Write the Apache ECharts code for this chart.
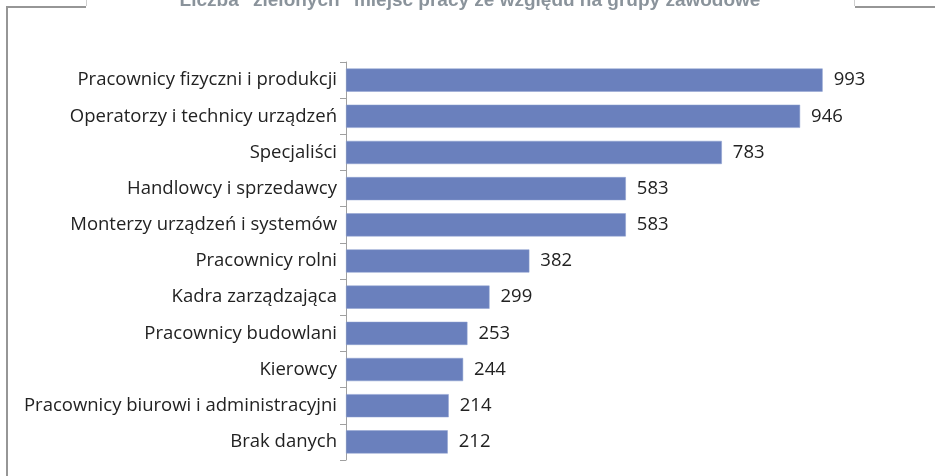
<!DOCTYPE html>
<html>
<head>
<meta charset="utf-8">
<script src="https://cdn.jsdelivr.net/npm/echarts@6/dist/echarts.min.js"></script>
<style>
html,body{margin:0;padding:0;background:#fff;}
#chart{width:935px;height:476px;}
</style>
</head>
<body>
<div id="chart"></div>
<script>
const titleText = 'Liczba "zielonych" miejsc pracy ze względu na grupy zawodowe';
const categories = [
  'Pracownicy fizyczni i produkcji',
  'Operatorzy i technicy urządzeń',
  'Specjaliści',
  'Handlowcy i sprzedawcy',
  'Monterzy urządzeń i systemów',
  'Pracownicy rolni',
  'Kadra zarządzająca',
  'Pracownicy budowlani',
  'Kierowcy',
  'Pracownicy biurowi i administracyjni',
  'Brak danych'
];
const values = [993, 946, 783, 583, 583, 382, 299, 253, 244, 214, 212];

const chart = echarts.init(document.getElementById('chart'), null, {renderer: 'canvas'});
const FONT = '"Open Sans", "Liberation Sans", Arial, sans-serif';
chart.setOption({
  animation: false,
  backgroundColor: '#ffffff',
  graphic: [
    {type: 'line', shape: {x1: 7, y1: 7, x2: 86, y2: 7}, style: {stroke: '#969696', lineWidth: 2}},
    {type: 'line', shape: {x1: 7, y1: 6, x2: 7, y2: 476}, style: {stroke: '#969696', lineWidth: 2}},
    {type: 'line', shape: {x1: 855, y1: 7, x2: 935, y2: 7}, style: {stroke: '#969696', lineWidth: 2}},
    {type: 'line', shape: {x1: 86.5, y1: 0, x2: 86.5, y2: 6}, style: {stroke: '#cfcfcf', lineWidth: 1}},
    {type: 'line', shape: {x1: 854.5, y1: 0, x2: 854.5, y2: 6}, style: {stroke: '#cfcfcf', lineWidth: 1}},
    {type: 'text', style: {text: titleText, x: 470, y: -9, textAlign: 'center', fill: '#8a939b', font: 'bold 19px "Liberation Sans", Arial, sans-serif'}}
  ],
  grid: {left: 346, right: 109, top: 62, bottom: 16, containLabel: false},
  xAxis: {
    type: 'value', min: 0, max: 1000, show: false
  },
  yAxis: {
    type: 'category',
    data: categories,
    inverse: true,
    axisLine: {show: true, lineStyle: {color: '#a0a0a0', width: 1}},
    axisTick: {show: true, length: 6, lineStyle: {color: '#a0a0a0'}},
    axisLabel: {color: '#222', fontFamily: FONT, fontSize: 18.5, margin: 9}
  },
  series: [{
    type: 'bar',
    data: values,
    barCategoryGap: '36%',
    itemStyle: {color: '#6a80bd', borderColor: '#8fa0d0', borderWidth: 0.5},
    label: {show: true, position: 'right', distance: 11, color: '#222', fontFamily: FONT, fontSize: 18.5}
  }]
});
</script>
</body>
</html>
